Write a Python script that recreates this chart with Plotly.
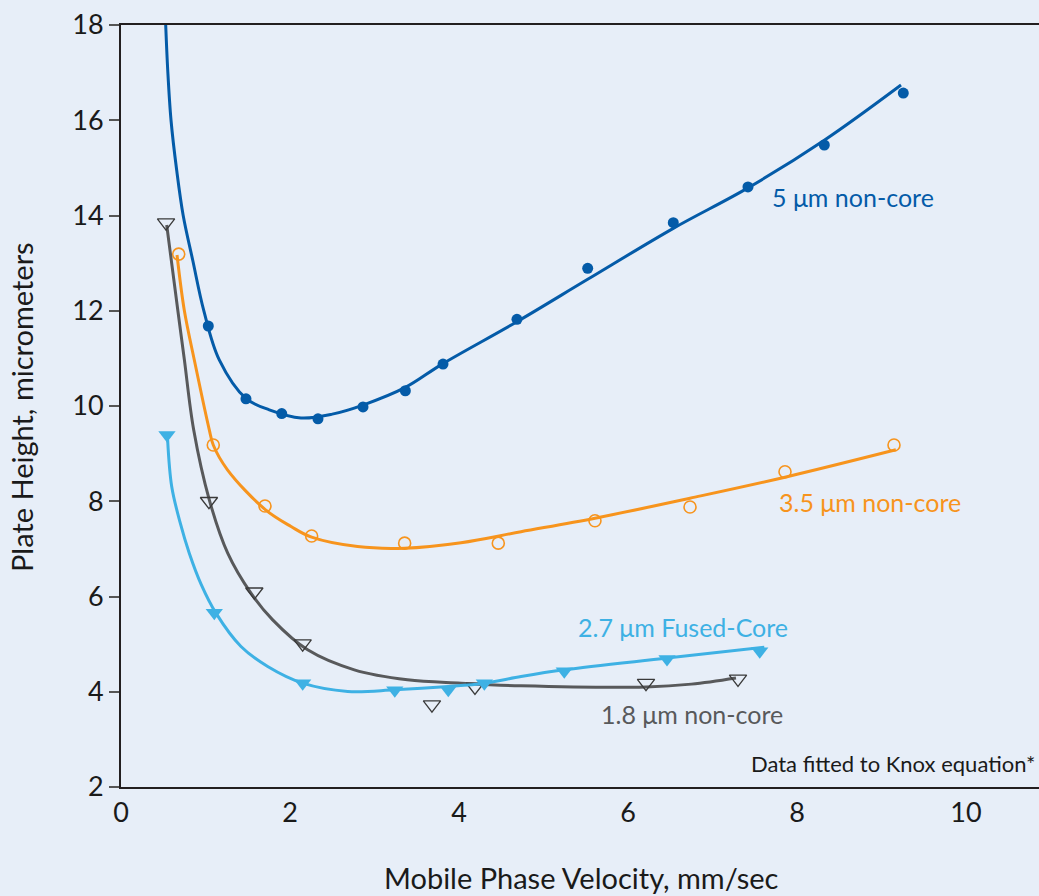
import plotly.graph_objects as go

# ---------------- data ----------------
# 5 um non-core : measured points
x5_pts = [1.033, 1.479, 1.902, 2.331, 2.864, 3.365, 3.811, 4.686, 5.523, 6.536, 7.42, 8.323, 9.258]
y5_pts = [11.68, 10.15, 9.84, 9.73, 9.98, 10.32, 10.88, 11.82, 12.89, 13.85, 14.60, 15.48, 16.57]
# 5 um non-core : fitted curve
x5_fit = [0.529, 0.553, 0.592, 0.659, 0.736, 0.849, 0.979, 1.163, 1.479, 1.755, 2.13, 2.5, 2.864, 3.365,
          3.80, 4.686, 5.523, 6.536, 7.42, 8.323, 9.231]
y5_fit = [18.0, 17.05, 16.0, 14.95, 14.0, 13.06, 12.01, 10.97, 10.16, 9.92, 9.75, 9.83, 10.02, 10.39,
          10.88, 11.77, 12.66, 13.73, 14.58, 15.58, 16.74]

# 3.5 um non-core
x35_pts = [0.683, 1.092, 1.704, 2.256, 3.357, 4.465, 5.609, 6.734, 7.858, 9.148]
y35_pts = [13.19, 9.18, 7.90, 7.27, 7.12, 7.12, 7.59, 7.88, 8.62, 9.18]
x35_fit = [0.663, 0.749, 0.867, 1.045, 1.092, 1.26, 1.704, 2.012, 2.256, 2.80, 3.357, 4.024, 4.734,
           5.609, 6.734, 7.858, 9.17]
y35_fit = [13.17, 12.01, 10.97, 9.50, 9.18, 8.66, 7.83, 7.47, 7.245, 7.048, 7.015, 7.13, 7.36,
           7.644, 8.064, 8.505, 9.08]

# 2.7 um Fused-Core
x27_pts = [0.544, 1.104, 2.150, 3.24, 3.873, 4.30, 5.246, 6.462, 7.559]
y27_pts = [9.39, 5.66, 4.18, 4.03, 4.04, 4.18, 4.43, 4.69, 4.85]
x27_fit = [0.552, 0.60, 0.70, 0.808, 0.95, 1.124, 1.42, 1.736, 2.15, 2.683, 3.24, 3.873, 4.30, 4.734,
           5.246, 6.462, 7.613]
y27_fit = [9.29, 8.31, 7.55, 6.91, 6.25, 5.65, 4.95, 4.53, 4.18, 4.006, 4.04, 4.11, 4.18, 4.32,
           4.46, 4.707, 4.937]

# 1.8 um non-core
x18_pts = [0.533, 1.041, 1.578, 2.150, 3.68, 4.189, 6.213, 7.302]
y18_pts = [13.85, 8.00, 6.10, 5.01, 3.73, 4.10, 4.18, 4.27]
x18_fit = [0.541, 0.673, 0.75, 0.86, 1.045, 1.263, 1.538, 1.795, 2.209, 2.761, 3.39, 4.024, 4.734,
           6.213, 6.75, 7.278]
y18_fit = [13.80, 12.00, 10.97, 9.50, 8.03, 6.91, 6.07, 5.51, 4.88, 4.46, 4.25, 4.18, 4.125,
           4.10, 4.16, 4.29]

x_ticks = [0, 2, 4, 6, 8, 10]
y_ticks = [2, 4, 6, 8, 10, 12, 14, 16, 18]

series_labels = ["5 μm non-core", "3.5 μm non-core", "2.7 μm Fused-Core", "1.8 μm non-core"]
note_text = "Data fitted to Knox equation*"
x_title = "Mobile Phase Velocity, mm/sec"
y_title = "Plate Height, micrometers"

# ---------------- styling ----------------
C_DARK = "#045ba8"
C_ORANGE = "#f7941d"
C_LIGHT = "#3eb1e4"
C_GRAY = "#58595b"
BG = "#e7eef8"
FONT = "Lato"
TXT = "#1a1a1a"

L, T, B = 121, 25, 109
PW, PH = 1039 - L, 896 - T - B

fig = go.Figure()

def add_series(xf, yf, xp, yp, color, marker):
    fig.add_trace(go.Scatter(x=xf, y=yf, mode="lines",
                             line=dict(color=color, width=3, shape="spline", smoothing=1.0),
                             hoverinfo="skip", showlegend=False))
    fig.add_trace(go.Scatter(x=xp, y=yp, mode="markers", marker=marker, showlegend=False))

add_series(x5_fit, y5_fit, x5_pts, y5_pts, C_DARK, dict(symbol="circle", size=11, color=C_DARK))
add_series(x35_fit, y35_fit, x35_pts, y35_pts, C_ORANGE,
           dict(symbol="circle-open", size=12, color=C_ORANGE, line=dict(width=1.6, color=C_ORANGE)))
add_series(x18_fit, y18_fit, x18_pts, y18_pts, C_GRAY,
           dict(symbol="triangle-down-open", size=15, color="#3a3a3a", line=dict(width=1.3, color="#3a3a3a")))
add_series(x27_fit, y27_fit, x27_pts, y27_pts, C_LIGHT, dict(symbol="triangle-down", size=15, color=C_LIGHT))

def px2paper(px, py):
    return (px - L) / PW, 1 - (py - T) / PH

ann = []
label_pos = [(770, 197, C_DARK), (777, 502, C_ORANGE), (576, 627, C_LIGHT), (599, 714, C_GRAY)]
for txt, (px, py, col) in zip(series_labels, label_pos):
    ax, ay = px2paper(px, py)
    ann.append(dict(text=txt, xref="paper", yref="paper", x=ax, y=ay, xanchor="left", yanchor="middle",
                    showarrow=False, font=dict(family=FONT, size=25, color=col)))
ax, ay = px2paper(1037, 763)
ann.append(dict(text=note_text, xref="paper", yref="paper", x=ax, y=ay, xanchor="right", yanchor="middle",
                showarrow=False, font=dict(family=FONT, size=22, color=TXT)))
ax, ay = px2paper(581, 877)
ann.append(dict(text=x_title, xref="paper", yref="paper", x=ax, y=ay, xanchor="center", yanchor="middle",
                showarrow=False, font=dict(family=FONT, size=29, color=TXT)))
ax, ay = px2paper(21, 407)
ann.append(dict(text=y_title, xref="paper", yref="paper", x=ax, y=ay, xanchor="center", yanchor="middle",
                textangle=-90, showarrow=False, font=dict(family=FONT, size=29, color=TXT)))

fig.update_layout(
    width=1039, height=896,
    margin=dict(l=L, r=0, t=T, b=B),
    paper_bgcolor=BG, plot_bgcolor=BG,
    font=dict(family=FONT, size=24, color=TXT),
    annotations=ann,
    xaxis=dict(range=[0, 10.864], tickvals=x_ticks, ticktext=[str(v) for v in x_ticks],
               showgrid=False, zeroline=False, showline=True, linecolor="#231f20", linewidth=2, mirror=True,
               ticks="", ticklabelstandoff=1, tickfont=dict(size=27)),
    yaxis=dict(range=[2, 18], tickvals=y_ticks, showgrid=False, zeroline=False, showline=True,
               linecolor="#231f20", linewidth=2, ticks="outside", ticklen=10, tickwidth=1.5,
               tickcolor="#555555", ticklabelstandoff=0, tickfont=dict(size=27)),
)

fig.write_html("out.html")
